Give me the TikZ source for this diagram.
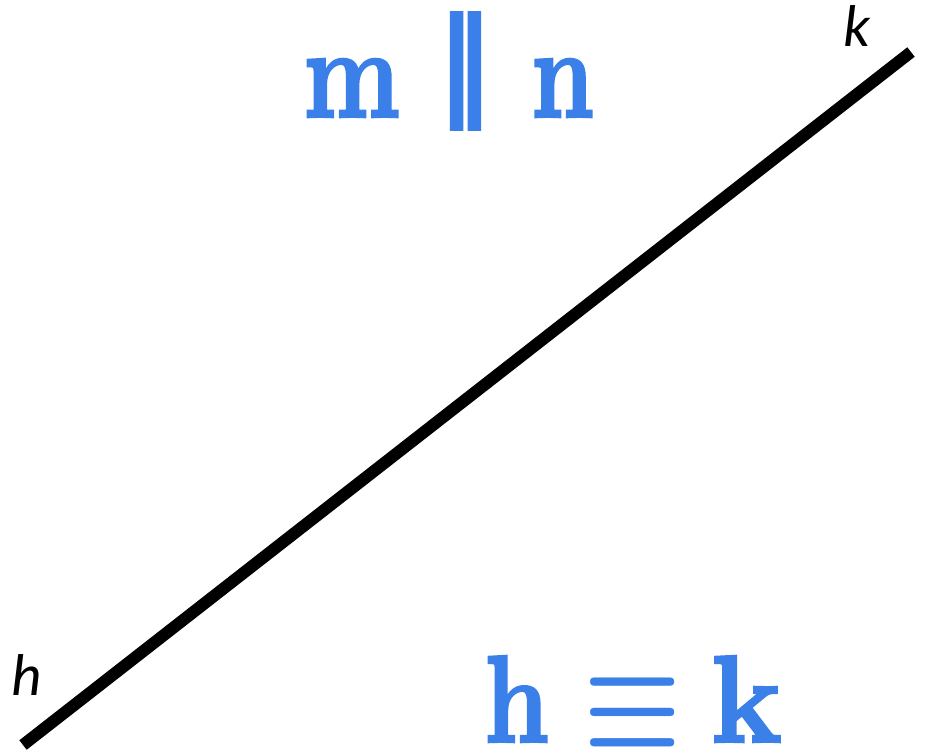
\documentclass[tikz,border=0pt]{standalone}
\usepackage{amsmath}
\usepackage{graphicx}
\usepackage{fontspec}
\newfontfamily\labelfont{Carlito}
\newfontfamily\heavyserif[FakeBold=2]{Latin Modern Roman}
\newfontfamily\heaviersym[FakeBold=4]{DejaVu Sans}
\definecolor{glossblue}{RGB}{58,128,232}
\tikzset{
  bigsym/.style={inner sep=0pt, text=glossblue},
  endlabel/.style={inner sep=0pt, font=\labelfont\itshape\fontsize{59}{59}\selectfont, anchor=base west},
  thickline/.style={line width=12pt, black}
}
\begin{document}
\begin{tikzpicture}[x=1pt,y=-1pt]
\useasboundingbox (0,0) rectangle (928,754);
\coordinate (lo) at (23,745);
\coordinate (hi) at (911,52);
\draw[thickline] (lo) -- (hi);
\node[endlabel] (klab) at (843,47) {k};
\node[endlabel] (hlab) at (11,695) {h};
% m || n
\node[bigsym] (m1) at (351.5,88) {\resizebox{97pt}{58pt}{\heavyserif\bfseries m}};
\node[bigsym] (par) at (465.5,71) {\resizebox*{57pt}{115pt}{\heaviersym ∥}};
\node[bigsym] (n1) at (562.5,88) {\resizebox{63pt}{58pt}{\heavyserif\bfseries n}};
% h = k
\node[bigsym] (h1) at (516.5,699) {\resizebox{65pt}{86pt}{\heavyserif\bfseries h}};
\node[bigsym] (eqv) at (632.5,712) {\scalebox{11}[13.6]{$\boldsymbol{\equiv}$}};
\node[bigsym] (k1) at (746.5,699) {\resizebox{71pt}{86pt}{\heavyserif\bfseries k}};
\end{tikzpicture}
\end{document}
